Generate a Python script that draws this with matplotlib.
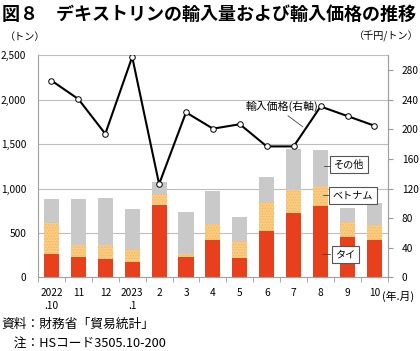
import matplotlib
matplotlib.use('Agg')
import matplotlib.pyplot as plt
import numpy as np

plt.rcParams['font.family'] = ['Noto Sans CJK JP', 'DejaVu Sans']
plt.rcParams['hatch.linewidth'] = 0.6

# データ
months = ['2022\n.10', '11', '12', '2023\n.1', '2', '3', '4', '5', '6', '7', '8', '9', '10']
thai = [263, 233, 203, 169, 812, 229, 421, 214, 526, 726, 801, 458, 424]
vietnam = [353, 128, 158, 154, 125, 34, 184, 196, 320, 256, 226, 163, 163]
others = [268, 523, 527, 444, 138, 477, 366, 274, 286, 462, 410, 165, 248]
price = [266, 241, 194, 298, 126, 223, 201, 207, 177, 177, 231, 218, 205]

red = '#E8401C'
orange = '#F9CC82'
gray = '#C9C9C9'

fig = plt.figure(figsize=(4.2, 3.51), dpi=100)
ax = fig.add_axes([0.0905, 0.21, 0.833, 0.632])
x = np.arange(len(months))
w = 0.56

b1 = np.array(thai)
b2 = b1 + np.array(vietnam)
ax.bar(x, thai, w, color=red, linewidth=0, zorder=2)
ax.bar(x, vietnam, w, bottom=b1, color=orange, edgecolor='#F3B45E', hatch='......', linewidth=0, zorder=2)
ax.bar(x, others, w, bottom=b2, color=gray, linewidth=0, zorder=2)

ax.set_xlim(-0.5, len(months) - 0.5)
ax.set_ylim(0, 2500)
ax.set_yticks(range(0, 2501, 500))
ax.set_yticklabels(['0', '500', '1,000', '1,500', '2,000', '2,500'], fontsize=7.3)
ax.tick_params(axis='y', length=0, pad=8.5)
ax.grid(axis='y', color='#BDBDBD', linewidth=0.8, zorder=0)
ax.set_xticks(x)
ax.set_xticklabels(months, fontsize=7.3, linespacing=1.45, va='top')
ax.set_xticks(np.arange(-0.5, len(months), 1), minor=True)
ax.tick_params(axis='x', which='major', length=0, pad=7.5)
ax.tick_params(axis='x', which='minor', length=3.5, color='#999999', direction='out')
ax.spines['top'].set_visible(False)
for s in ['left', 'bottom', 'right']:
    ax.spines[s].set_color('#A0A0A0')
    ax.spines[s].set_linewidth(0.8)

ax2 = ax.twinx()
ax2.set_ylim(0, 300)
ax2.set_yticks(range(0, 281, 40))
ax2.tick_params(axis='y', labelsize=7.3, length=3.5, color='#999999', pad=6.5)
for s in ['top', 'left', 'bottom']:
    ax2.spines[s].set_visible(False)
ax2.spines['right'].set_color('#A0A0A0')
ax2.spines['right'].set_linewidth(0.8)
ax2.plot(x, price, color='black', linewidth=1.5, marker='o', markersize=4,
         markerfacecolor='white', markeredgecolor='black', markeredgewidth=0.7, zorder=5)

# 注釈
ax.text(8.55, 1925, '輸入価格(右軸)', fontsize=7.8, ha='center', va='center', zorder=6)
ax.plot([8.79, 9.34], [1820, 1696], color='#444444', linewidth=0.6, zorder=6)
box = dict(boxstyle='square,pad=0.35', facecolor='white', edgecolor='#555555', linewidth=0.8)
ax.text(11.05, 1273, 'その他', fontsize=7.3, ha='center', va='center', bbox=box, zorder=6)
ax.plot([10.12, 10.35], [1256, 1256], color='#444444', linewidth=0.6, zorder=6)
ax.text(11.2, 920, 'ベトナム', fontsize=7.3, ha='center', va='center', bbox=box, zorder=6)
ax.plot([10.08, 10.31], [925, 925], color='#444444', linewidth=0.6, zorder=6)
ax.text(10.93, 261, 'タイ', fontsize=7.3, ha='center', va='center', bbox=box, zorder=6)
ax.plot([10.04, 10.35], [263, 263], color='#444444', linewidth=0.6, zorder=6)

fig.text(0.005, 0.985, '図８　デキストリンの輸入量および輸入価格の推移', fontsize=13,
         fontweight='bold', ha='left', va='top')
fig.text(0.012, 0.895, '（トン）', fontsize=7.3, ha='left', va='center')
fig.text(0.998, 0.895, '（千円/トン）', fontsize=7.3, ha='right', va='center')
fig.text(0.909, 0.157, '(年.月)', fontsize=7.8, ha='left', va='center')
fig.text(0.003, 0.077, '資料：財務省「貿易統計」', fontsize=9.2, ha='left', va='center')
fig.text(0.003, 0.023, '\u3000注：HSコード3505.10-200', fontsize=9.2, ha='left', va='center')

fig.savefig('out.png', dpi=100)
